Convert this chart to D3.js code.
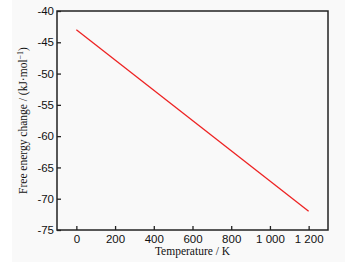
<!DOCTYPE html>
<html>
<head>
<meta charset="utf-8">
<script src="https://cdn.jsdelivr.net/npm/d3@7"></script>
<style>
  body { margin: 0; background: #fff; }
  svg { font-family: "Liberation Serif", "DejaVu Serif", serif; }
</style>
</head>
<body>
<div id="vis"></div>
<script>
// data
const temps = [0, 1200]
const energies = [-43, -72]
const xTicks = [0, 200, 400, 600, 800, 1000, 1200]
const xTickLabels = ["0", "200", "400", "600", "800", "1 000", "1 200"]
const yTicks = [-40, -45, -50, -55, -60, -65, -70, -75]

const width = 351
const height = 262
const margin = {left: 57, right: 23, top: 11, bottom: 32}

const svg = d3.select("#vis")
  .append("svg")
  .attr("width", width)
  .attr("height", height)

svg.append("rect")
  .attr("x", 12).attr("y", 0)
  .attr("width", 333).attr("height", 262)
  .attr("fill", "#f9f9f9")

const x = d3.scaleLinear()
  .domain([-100, 1300])
  .range([margin.left, width - margin.right])

const y = d3.scaleLinear()
  .domain([-75, -40])
  .range([height - margin.bottom, margin.top])

// frame
svg.append("rect")
  .attr("x", x(-100))
  .attr("y", y(-40))
  .attr("width", x(1300) - x(-100))
  .attr("height", y(-75) - y(-40))
  .attr("fill", "none")
  .attr("stroke", "#222")
  .attr("stroke-width", 1.5)

const xAxis = svg.append("g")
  .attr("transform", "translate(0," + y(-75) + ")")
  .call(d3.axisBottom(x).tickValues(xTicks).tickSizeInner(-4).tickSizeOuter(0)
    .tickFormat((d, i) => xTickLabels[i]))
xAxis.select(".domain").remove()
xAxis.selectAll("line").attr("stroke", "#222").attr("stroke-width", 1.3)
xAxis.selectAll("text").attr("dy", "0.71em").attr("y", 5)
  .style("font-size", "11.5px").attr("fill", "#111")

const yAxis = svg.append("g")
  .attr("transform", "translate(" + x(-100) + ",0)")
  .call(d3.axisLeft(y).tickValues(yTicks).tickSizeInner(-4).tickSizeOuter(0)
    .tickFormat(d => String(d)))
yAxis.select(".domain").remove()
yAxis.selectAll("line").attr("stroke", "#222").attr("stroke-width", 1.3)
yAxis.selectAll("text").attr("x", -3)
  .style("font-size", "11.5px").attr("fill", "#111")

// line
const line = d3.line()
  .x(function(d, i) { return x(temps[i]) })
  .y(function(d) { return y(d) })

svg.append("path")
  .datum(energies)
  .attr("d", line)
  .attr("fill", "none")
  .attr("stroke", "#ee2222")
  .attr("stroke-width", 1.3)

// titles
svg.append("text")
  .attr("x", x(600))
  .attr("y", 255)
  .attr("text-anchor", "middle")
  .style("font-size", "11.5px")
  .attr("fill", "#111")
  .text("Temperature / K")

svg.append("text")
  .attr("transform", "translate(27," + y(-57.5) + ") rotate(-90)")
  .attr("text-anchor", "middle")
  .style("font-size", "11.5px")
  .attr("fill", "#111")
  .html("Free energy change / (kJ·mol<tspan dy='-4' font-size='8px'>−1</tspan><tspan dy='4'>)</tspan>")
</script>
</body>
</html>
